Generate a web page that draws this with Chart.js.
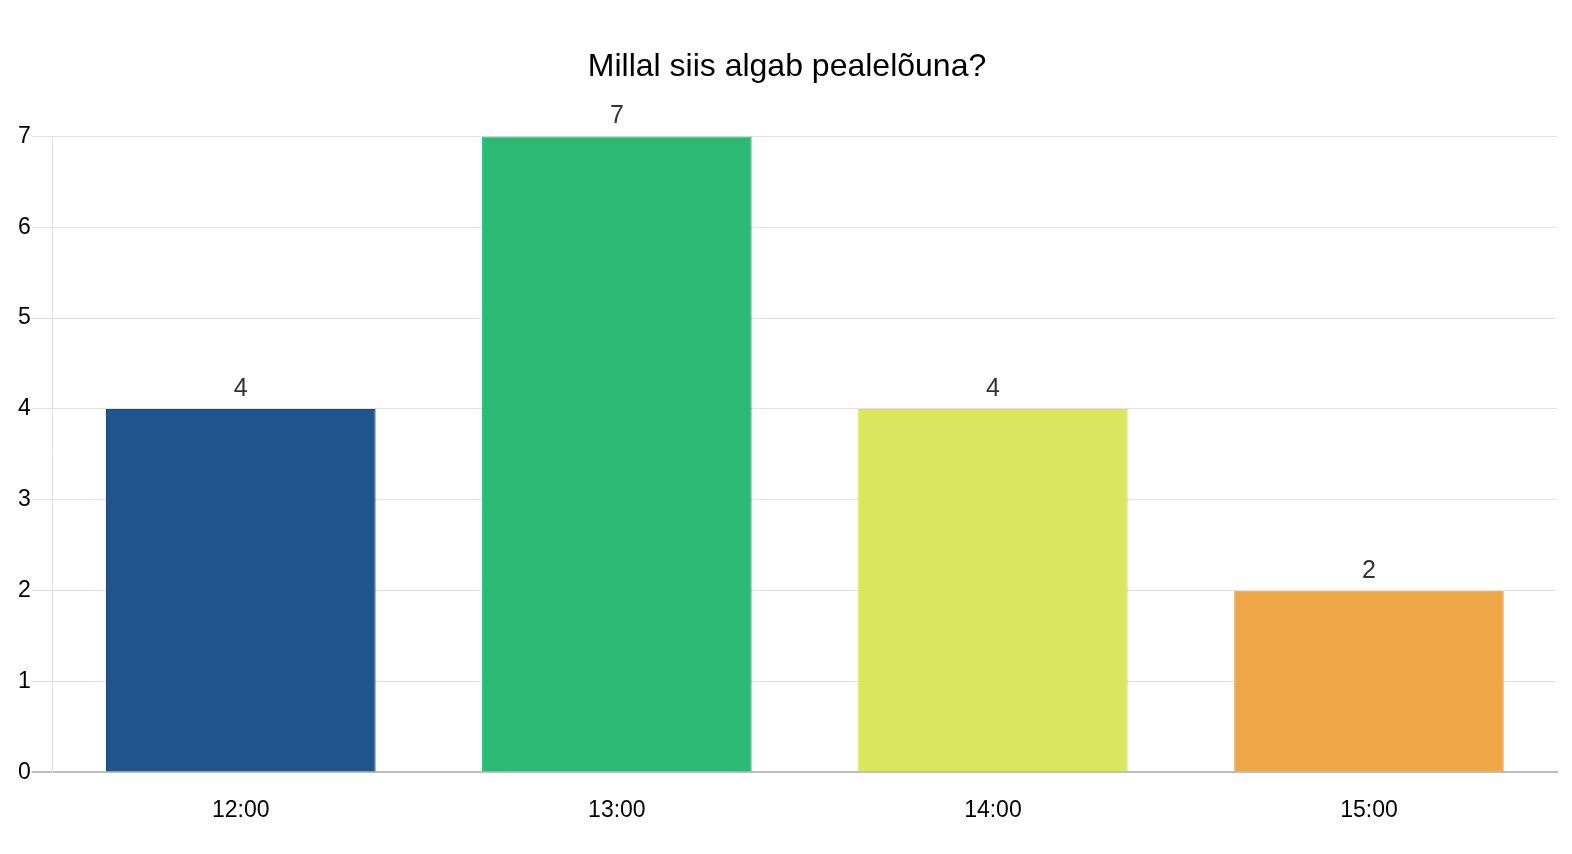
<!DOCTYPE html>
<html>
<head>
<meta charset="utf-8">
<script src="https://cdn.jsdelivr.net/npm/chart.js@4"></script>
<style>
html,body{margin:0;padding:0;background:#fff;}
#wrap{width:1572px;height:854px;}
</style>
</head>
<body>
<div id="wrap"><canvas id="c" width="1572" height="854"></canvas></div>
<script>
const chartTitle = "Millal siis algab pealelõuna?";
const categories = ["12:00", "13:00", "14:00", "15:00"];
const counts = [4, 7, 4, 2];
const barColors = ["rgb(31,85,141)", "rgb(43,185,115)", "rgb(218,229,96)", "rgb(239,166,71)"];
const barBorders = ["rgb(22,72,132)", "rgb(40,180,110)", "rgb(214,226,92)", "rgb(236,163,68)"];

const FONT = "'Liberation Sans', Arial, sans-serif";

const valueLabels = {
  id: 'valueLabels',
  afterDatasetsDraw(chart) {
    const ctx = chart.ctx;
    const meta = chart.getDatasetMeta(0);
    ctx.save();
    ctx.font = "25px " + FONT;
    ctx.fillStyle = "#333333";
    ctx.textAlign = "center";
    ctx.textBaseline = "middle";
    meta.data.forEach((bar, i) => {
      ctx.fillText(String(counts[i]), bar.x, bar.y - 20);
    });
    ctx.restore();
  }
};

new Chart(document.getElementById('c'), {
  type: 'bar',
  data: {
    labels: categories,
    datasets: [{
      data: counts,
      backgroundColor: barColors,
      borderColor: barBorders,
      borderWidth: 1,
      barPercentage: 0.717,
      categoryPercentage: 1.0
    }]
  },
  options: {
    responsive: false,
    animation: false,
    devicePixelRatio: 1,
    layout: { padding: { left: 17, right: 15, top: 0, bottom: 6 } },
    plugins: {
      legend: { display: false },
      tooltip: { enabled: false },
      title: {
        display: true,
        text: chartTitle,
        color: '#000000',
        font: { family: FONT, size: 32, weight: 'normal' },
        padding: { top: 48, bottom: 50 }
      }
    },
    scales: {
      x: {
        grid: { display: false, drawTicks: false },
        border: { display: true, color: '#bdbdbd', width: 2 },
        ticks: { color: '#000000', font: { family: FONT, size: 23 }, padding: 24 }
      },
      y: {
        min: 0,
        max: 7,
        grid: {
          color: (c) => (c.tick && c.tick.value === 0) ? '#bdbdbd' : '#e2e2e2',
          lineWidth: (c) => (c.tick && c.tick.value === 0) ? 2 : 1,
          tickLength: 21
        },
        border: { display: true, color: '#e2e2e2', width: 1 },
        ticks: { stepSize: 1, color: '#000000', font: { family: FONT, size: 23 }, padding: 1 }
      }
    }
  },
  plugins: [valueLabels]
});
</script>
</body>
</html>
